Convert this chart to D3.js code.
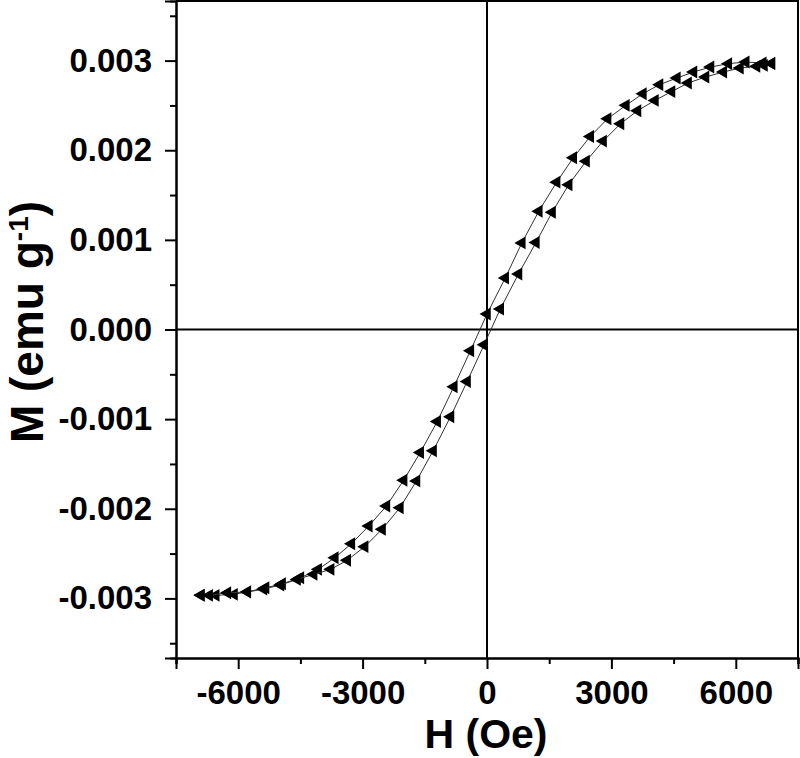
<!DOCTYPE html>
<html>
<head>
<meta charset="utf-8">
<script src="https://cdn.jsdelivr.net/npm/d3@7"></script>
<style>
  body { margin: 0; background: #fff; }
  text { font-family: "Liberation Sans", Arial, sans-serif; font-weight: bold; fill: #000; }
</style>
</head>
<body>
<div id="chart"></div>
<script>
// Descending branch (upper curve), field in Oe
var hDown = [-6900, -6540, -6100, -5780, -5340, -4940, -4500, -4070, -3670, -3270, -2850, -2425,
  -2010, -1610, -1200, -800, -400, 0, 440, 840, 1250, 1680, 2080, 2490, 2910, 3350, 3760, 4160,
  4580, 4980, 5390, 5820, 6240, 6650, 6860];
var mDown = [-0.002963, -0.002966, -0.002955, -0.002926, -0.002882, -0.002837, -0.002770, -0.002676,
  -0.002546, -0.002390, -0.002192, -0.001969, -0.001682, -0.001373, -0.001027, -0.000639, -0.000237,
  0.000173, 0.000575, 0.000966, 0.001320, 0.001644, 0.001916, 0.002154, 0.002352, 0.002501, 0.002631,
  0.002732, 0.002806, 0.002873, 0.002928, 0.002966, 0.002984, 0.002973, 0.002970];

// Ascending branch (lower curve)
var hUp = [-6900, -6700, -6260, -5780, -5390, -4980, -4580, -4180, -3770, -3370, -2950, -2530,
  -2100, -1700, -1300, -880, -480, -70, 320, 760, 1180, 1570, 1970, 2390, 2800, 3220, 3630, 4050,
  4450, 4850, 5270, 5700, 6100, 6500, 6680, 6860];
var mUp = [-0.002966, -0.002966, -0.002937, -0.002930, -0.002896, -0.002851, -0.002788, -0.002732,
  -0.002676, -0.002574, -0.002423, -0.002229, -0.001988, -0.001689, -0.001354, -0.000974, -0.000580,
  -0.000170, 0.000229, 0.000620, 0.000970, 0.001308, 0.001615, 0.001878, 0.002102, 0.002296, 0.002441,
  0.002556, 0.002654, 0.002750, 0.002817, 0.002873, 0.002917, 0.002936, 0.002947, 0.002966];

// Ticks
var xMajor = [-6000, -3000, 0, 3000, 6000];
var xLabels = ["-6000", "-3000", "0", "3000", "6000"];
var xMinor = [-7500, -4500, -1500, 1500, 4500, 7500];
var yMajor = [-0.003, -0.002, -0.001, 0, 0.001, 0.002, 0.003];
var yLabels = ["-0.003", "-0.002", "-0.001", "0.000", "0.001", "0.002", "0.003"];
var yMinor = [-0.0035, -0.0025, -0.0015, -0.0005, 0.0005, 0.0015, 0.0025, 0.0035];

var svgWidth = 800;
var svgHeight = 758;
var margin = { top: 1, right: 2, bottom: 100, left: 176 };
var width = svgWidth - margin.left - margin.right;
var height = svgHeight - margin.top - margin.bottom;

var svg = d3.select("#chart").append("svg")
    .attr("width", svgWidth)
    .attr("height", svgHeight);

var g = svg.append("g")
    .attr("transform", `translate(${margin.left},${margin.top})`);

var xScale = d3.scaleLinear().domain([-7500, 7500]).range([0, width]);
var yScale = d3.scaleLinear().domain([-0.003665, 0.003665]).range([height, 0]);

// Frame (top + right)
g.append("path")
    .attr("d", `M0,0H${width}V${height}`)
    .attr("fill", "none")
    .attr("stroke", "#000")
    .attr("stroke-width", 2);

// Zero lines
g.append("line")
    .attr("x1", xScale(0)).attr("x2", xScale(0))
    .attr("y1", 0).attr("y2", height)
    .attr("stroke", "#000").attr("stroke-width", 2);
g.append("line")
    .attr("x1", 0).attr("x2", width)
    .attr("y1", yScale(0)).attr("y2", yScale(0))
    .attr("stroke", "#000").attr("stroke-width", 2);

// Axes
var xAxis = d3.axisBottom(xScale)
    .tickValues(xMajor)
    .tickFormat((d, i) => xLabels[i])
    .tickSize(11)
    .tickPadding(12);
var xAxisMinor = d3.axisBottom(xScale)
    .tickValues(xMinor)
    .tickFormat("")
    .tickSize(6);
var yAxis = d3.axisLeft(yScale)
    .tickValues(yMajor)
    .tickFormat((d, i) => yLabels[i])
    .tickSize(11)
    .tickPadding(13);
var yAxisMinor = d3.axisLeft(yScale)
    .tickValues(yMinor)
    .tickFormat("")
    .tickSize(6);

function styleAxis(sel) {
    sel.select(".domain").attr("stroke-width", 2);
    sel.selectAll(".tick line").attr("stroke-width", 2);
    sel.selectAll(".tick text")
        .style("font-family", '"Liberation Sans", Arial, sans-serif')
        .style("font-weight", "bold")
        .style("font-size", "33px");
}

g.append("g").attr("transform", `translate(0,${height})`).call(xAxisMinor).call(styleAxis);
g.append("g").call(yAxisMinor).call(styleAxis);
g.append("g").attr("transform", `translate(0,${height})`).call(xAxis).call(styleAxis);
g.append("g").call(yAxis).call(styleAxis);

// Curves
var branches = [
    hDown.map((h, i) => ({ h: h, m: mDown[i] })),
    hUp.map((h, i) => ({ h: h, m: mUp[i] }))
];

var line = d3.line()
    .x(d => xScale(d.h))
    .y(d => yScale(d.m));

var tri = d3.symbol().type(d3.symbolTriangle).size(72);

branches.forEach(function(data) {
    g.append("path")
        .datum(data)
        .attr("d", line)
        .attr("fill", "none")
        .attr("stroke", "#333")
        .attr("stroke-width", 1);

    g.selectAll(null)
        .data(data)
        .enter()
        .append("path")
        .attr("d", tri)
        .attr("transform", d => `translate(${xScale(d.h)},${yScale(d.m)}) rotate(-90)`)
        .attr("fill", "#000");
});

// Axis titles
svg.append("text")
    .attr("x", margin.left + xScale(0) - 1)
    .attr("y", 748)
    .attr("text-anchor", "middle")
    .style("font-size", "41px")
    .text("H (Oe)");

var yTitle = svg.append("text")
    .attr("transform", "translate(43,322) rotate(-90)")
    .attr("text-anchor", "middle")
    .style("font-size", "46px");
yTitle.append("tspan").text("M (emu g");
yTitle.append("tspan").attr("dy", "-0.55em").style("font-size", "28px").text("-1");
yTitle.append("tspan").attr("dy", "0.34em").text(")");
</script>
</body>
</html>
